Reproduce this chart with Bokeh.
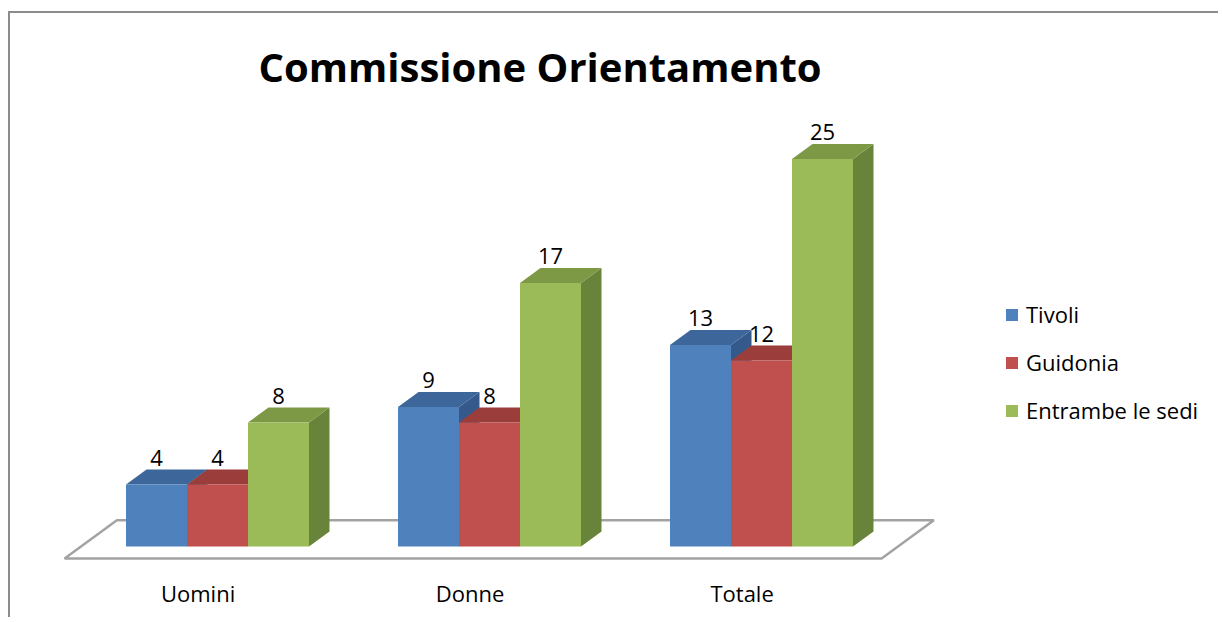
from bokeh.plotting import figure
from bokeh.models import ColumnDataSource, Legend, LegendItem, Title
from bokeh.core.properties import value
from bokeh.embed import file_html
from bokeh.resources import INLINE

# ---- data ----
categories = ["Uomini", "Donne", "Totale"]
series = ["Tivoli", "Guidonia", "Entrambe le sedi"]
tivoli = [4, 9, 13]
guidonia = [4, 8, 12]
entrambe = [8, 17, 25]
title_text = "Commissione Orientamento"

# ---- styles ----
front_colors = ["#4F81BD", "#C0504D", "#9BBB59"]
top_colors = ["#3D679A", "#9A3D3B", "#7D9945"]
side_colors = ["#34598A", "#853331", "#68833A"]
FONT = "Open Sans"

W, H = 1210, 606
PX_X = 272.0      # pixels per category step
PX_Y = 15.5       # pixels per value unit
BAR_W = 61 / PX_X
DX = 20.5 / PX_X  # depth offset (x)
DY = 15 / PX_Y    # depth offset (y)
FLOOR_FRONT = -0.8
FLOOR_BACK = 1.75
FLOOR_MARGIN = 45 / PX_X

CONTENT_LEFT = 10
CONTENT_TOP = 13
TOP_BORDER = 85
frame_left_page = CONTENT_LEFT
frame_top_page = CONTENT_TOP + TOP_BORDER
frame_bottom_page = CONTENT_TOP + H
zero_page_x = 217   # page x of first category centre
zero_page_y = 546   # page y of value 0
x0 = (frame_left_page - zero_page_x) / PX_X
x1 = x0 + W / PX_X
y0 = -(frame_bottom_page - zero_page_y) / PX_Y
y1 = y0 + (frame_bottom_page - frame_top_page) / PX_Y

p = figure(width=W, height=H, output_backend="svg", toolbar_location=None,
           x_range=(x0, x1), y_range=(y0, y1),
           x_axis_location=None, y_axis_location=None,
           min_border=0, min_border_top=TOP_BORDER, min_border_left=0,
           min_border_right=0, min_border_bottom=0,
           background_fill_color="white", border_fill_color="white",
           styles={"border-top": "2px solid #8C8C8C",
                   "border-left": "2px solid #8C8C8C",
                   "margin-left": "8px", "margin-top": "11px"})
p.grid.grid_line_color = None
p.outline_line_color = None
p.title = Title(text=title_text, text_font=FONT, text_font_size="40px",
                text_font_style="bold", text_color="black",
                align="left", offset=248)

# floor
n = len(categories)
xmin = 0 - 1.5 * BAR_W - FLOOR_MARGIN
xmax = (n - 1) + 1.5 * BAR_W + FLOOR_MARGIN
fx = [xmin + FLOOR_FRONT * DX, xmin + FLOOR_BACK * DX,
      xmax + FLOOR_BACK * DX, xmax + FLOOR_FRONT * DX]
fy = [FLOOR_FRONT * DY, FLOOR_BACK * DY, FLOOR_BACK * DY, FLOOR_FRONT * DY]
p.patch(fx, fy, fill_color="white", line_color="#A3A3A3", line_width=2.5)

all_vals = [tivoli, guidonia, entrambe]
fronts = []
lab_x, lab_y, lab_t = [], [], []
for k, vals in enumerate(all_vals):
    lefts = [i + (k - 1.5) * BAR_W for i in range(n)]
    rights = [l + BAR_W for l in lefts]
    side_xs = [[r, r + DX, r + DX, r] for r in rights]
    side_ys = [[0, DY, v + DY, v] for v in vals]
    top_xs = [[l, l + DX, r + DX, r] for l, r in zip(lefts, rights)]
    top_ys = [[v, v + DY, v + DY, v] for v in vals]
    p.patches(side_xs, side_ys, fill_color=side_colors[k], line_color=None)
    p.patches(top_xs, top_ys, fill_color=top_colors[k], line_color=None)
    src = ColumnDataSource(dict(left=lefts, right=rights,
                                top=vals, bottom=[0] * n))
    r = p.quad(left="left", right="right", top="top", bottom="bottom",
               source=src, fill_color=front_colors[k], line_color=None)
    fronts.append(r)
    for l, v in zip(lefts, vals):
        lab_x.append(l + BAR_W / 2)
        lab_y.append(v + DY)
        lab_t.append(str(v))

p.text(x=lab_x, y=lab_y, text=lab_t, text_font=value(FONT),
       text_font_size="22px", text_align="center",
       text_baseline="middle", y_offset=-12, text_color="black")

cat_x = [i + FLOOR_FRONT * DX for i in range(n)]
cat_y = [FLOOR_FRONT * DY] * n
p.text(x=cat_x, y=cat_y, text=categories, text_font=value(FONT),
       text_font_size="22px", text_align="center",
       text_baseline="middle", y_offset=34, x_offset=-3, text_color="black")

legend = Legend(items=[LegendItem(label=s, renderers=[r])
                       for s, r in zip(series, fronts)],
                location=(994, 194),
                orientation="vertical",
                glyph_width=15, glyph_height=15, label_height=24,
                spacing=18, padding=0, margin=0, label_standoff=7,
                label_text_font=FONT, label_text_font_size="22px",
                label_text_color="black",
                border_line_color=None, background_fill_alpha=0)
p.add_layout(legend)

open("out.html", "w").write(file_html(p, INLINE))
